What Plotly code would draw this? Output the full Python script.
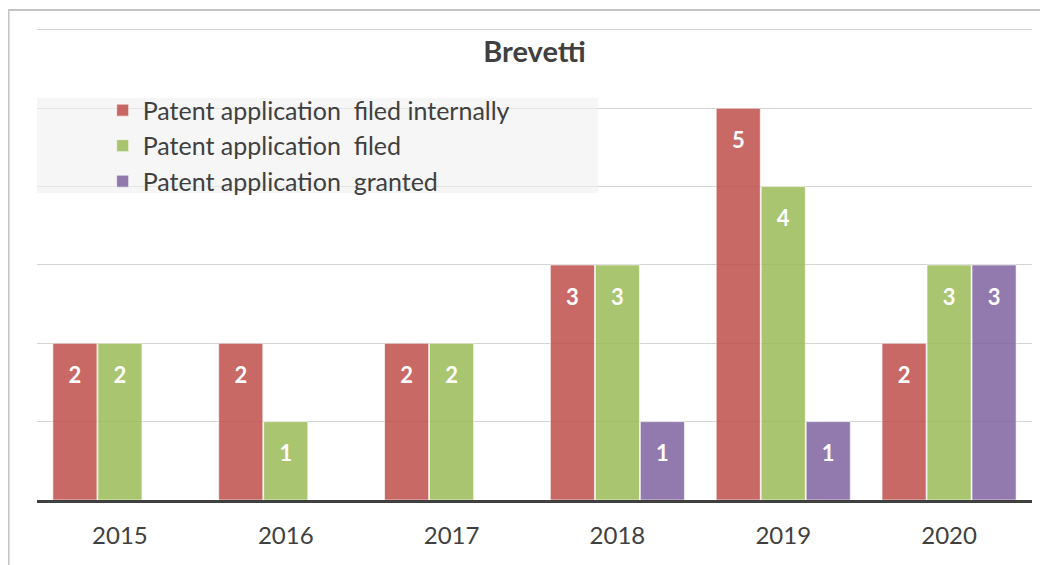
import plotly.graph_objects as go

years = ["2015", "2016", "2017", "2018", "2019", "2020"]
filed_internally = [2, 2, 2, 3, 5, 2]
filed = [2, 1, 2, 3, 4, 3]
granted = [None, None, None, 1, 1, 3]

series_names = [
    "Patent application\u00a0 filed internally",
    "Patent application\u00a0 filed",
    "Patent application\u00a0 granted",
]
series_values = [filed_internally, filed, granted]
series_colors = ["rgba(192,80,77,0.86)", "rgba(155,187,89,0.86)", "rgba(128,100,162,0.86)"]

FONT = "Lato, 'Open Sans', sans-serif"

fig = go.Figure()
for name, vals, col in zip(series_names, series_values, series_colors):
    fig.add_trace(go.Bar(
        x=years, y=vals, name=name,
        marker=dict(color=col, line=dict(color="rgba(255,255,255,0.6)", width=1)),
        texttemplate="<span style='font-size:8px'>\u00a0</span><br>%{y}",
        textposition="inside", insidetextanchor="end",
        textfont=dict(family=FONT, size=22, color="white", weight="bold"),
        textangle=0, cliponaxis=False,
    ))

# page body has an 8px margin: offsets below compensate for it
fig.update_layout(
    width=1048, height=565,
    margin=dict(l=29, r=24, t=18, b=73),
    paper_bgcolor="white", plot_bgcolor="white",
    barmode="group", bargap=0.186, bargroupgap=0.02,
    title=dict(text="<b>Brevetti</b>", x=0.5, xref="paper", xanchor="center",
               y=1 - 44 / 565, yanchor="middle",
               font=dict(family=FONT, size=29, color="#404040")),
    legend=dict(x=0.066, y=0.8705, xanchor="left", yanchor="top",
                bgcolor="rgba(0,0,0,0)", borderwidth=0,
                font=dict(family=FONT, size=25, color="#404040"),
                traceorder="normal"),
    xaxis=dict(showline=True, linecolor="#404040", linewidth=3, ticks="",
               tickfont=dict(family=FONT, size=24, color="#404040"),
               ticklabelstandoff=12, showgrid=False),
    yaxis=dict(range=[0, 6.05], dtick=1, showticklabels=False, showgrid=True,
               gridcolor="#d4d4d4", gridwidth=1, zeroline=False),
    shapes=[
        # legend background panel
        dict(type="rect", xref="paper", yref="paper", x0=0, x1=0.5638, y0=0.6477, y1=0.8481,
             fillcolor="rgba(240,240,240,0.6)", line=dict(width=0), layer="above"),
        # chart frame (top & left visible)
        dict(type="rect", xref="paper", yref="paper", x0=-0.0286, x1=1.05, y0=-0.2, y1=1.0338,
             fillcolor="rgba(0,0,0,0)", line=dict(color="#c4c4c4", width=2), layer="above"),
    ],
)

fig.write_html("out.html")
